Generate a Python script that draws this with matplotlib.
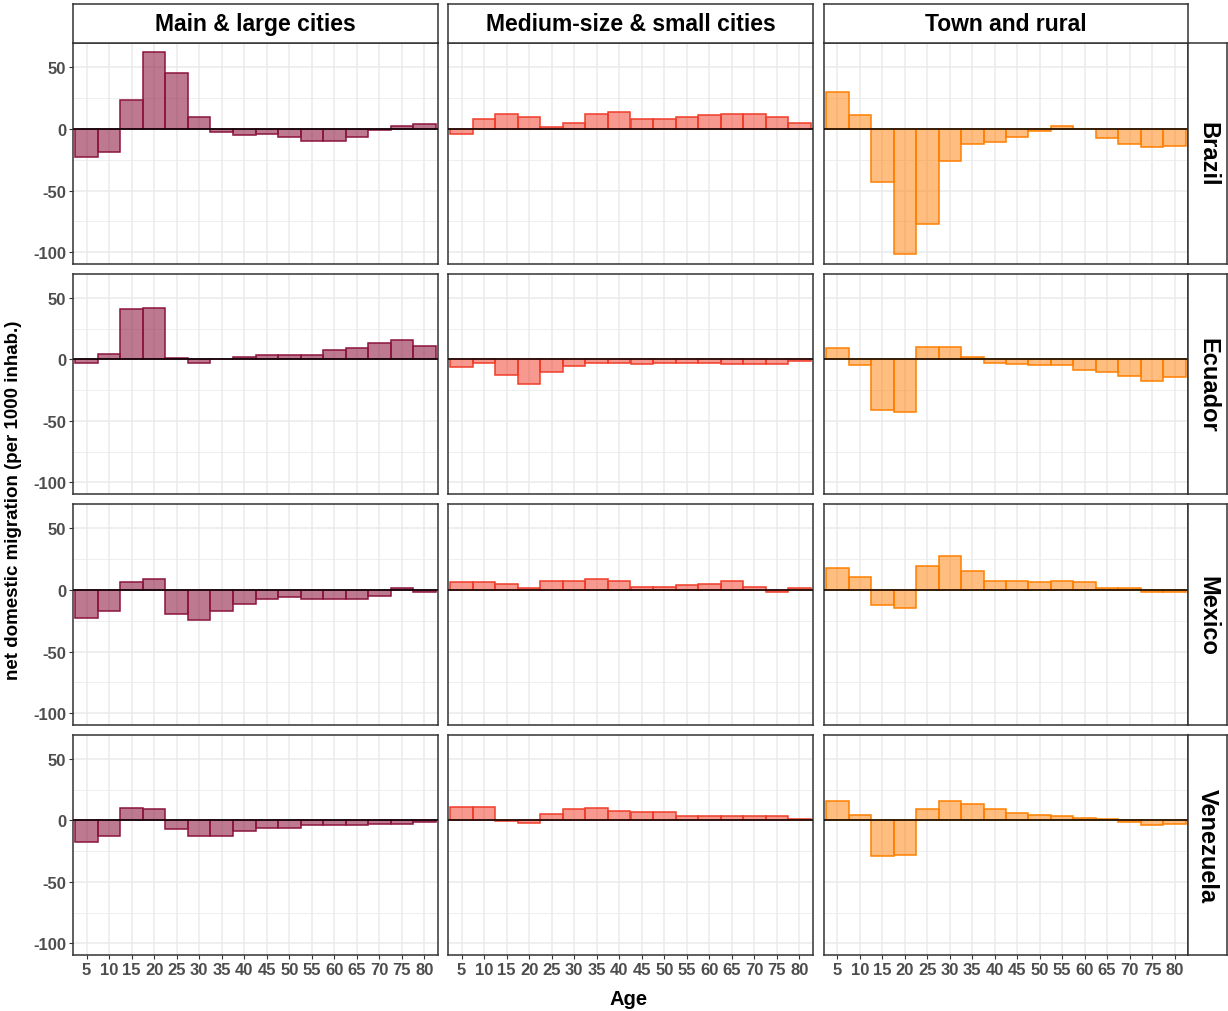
import numpy as np
import matplotlib.pyplot as plt
from matplotlib.colors import to_rgba

plt.rcParams['font.family'] = ['Liberation Sans', 'DejaVu Sans']

# Data: net domestic migration (per 1000 inhab.) by age group
ages = [5, 10, 15, 20, 25, 30, 35, 40, 45, 50, 55, 60, 65, 70, 75, 80]
countries = ['Brazil', 'Ecuador', 'Mexico', 'Venezuela']
city_types = ['Main & large cities', 'Medium-size & small cities', 'Town and rural']

brazil_main = [-23, -18.5, 23, 62, 45, 9.5, -2.5, -5, -4, -6.5, -9.5, -9.5, -6.5, -1, 2.2, 3.6]
brazil_medium = [-4, 8.3, 12, 9.7, 1.1, 4.7, 12, 13.3, 8.3, 8.3, 9.7, 10.8, 12, 12, 9.7, 4.7]
brazil_town = [29.5, 11, -43, -101, -77.5, -26, -12.5, -10.3, -6.4, -1.4, 2.2, 0, -7.8, -12.5, -15, -14]

ecuador_main = [-2.7, 4.7, 41, 42.2, 1.1, -2.7, 0, 2.2, 3.3, 3.3, 3.3, 7.4, 9.6, 13.2, 15.6, 10.7]
ecuador_medium = [-6.3, -2.7, -12.3, -19.7, -10, -5.5, -2.7, -2.7, -4, -2.7, -2.7, -2.7, -4, -4, -4, -1.4]
ecuador_town = [9.6, -4.9, -41, -42.5, 10.4, 10.4, 2.2, -2.7, -4, -4.9, -4.9, -8.8, -10, -13.7, -17.2, -14.5]

mexico_main = [-23, -17.3, 6, 8.5, -19.5, -24.5, -17, -11.2, -7.4, -6, -7.4, -7.4, -7.4, -4.9, 1.1, -1.4]
mexico_medium = [6, 6, 4.7, 1.1, 7.1, 7.1, 8.5, 7.1, 2.2, 2.2, 3.6, 4.7, 7.1, 2.2, -1.4, 1.1]
mexico_town = [18, 10.7, -12, -14.8, 19.2, 27.7, 15.6, 7.1, 7.1, 6, 7.1, 6, 1.1, 1.1, -1.4, -1.4]

venezuela_main = [-17.3, -12.4, 10.5, 9.2, -7.3, -12.4, -12.4, -8.6, -6.2, -6.2, -3.8, -3.8, -4, -2.7, -2.7, -1.1]
venezuela_medium = [11, 11, -0.8, -2.2, 4.9, 8.9, 10, 7.8, 6.5, 6.5, 3.5, 3.5, 3.5, 3.5, 3.5, 1.4]
venezuela_town = [15.4, 4.6, -29, -28, 9.5, 15.4, 13, 9.5, 5.9, 4.6, 3.2, 2.2, 1.1, -1.4, -4, -2.7]

panel_data = [
    [brazil_main, brazil_medium, brazil_town],
    [ecuador_main, ecuador_medium, ecuador_town],
    [mexico_main, mexico_medium, mexico_town],
    [venezuela_main, venezuela_medium, venezuela_town],
]

edge_colors = ['#8c143c', '#f03c28', '#ff7f00']
fill_alpha = [0.57, 0.52, 0.5]

W, H = 1228, 1012
fig = plt.figure(figsize=(W / 100, H / 100), dpi=100)

def px_axes(l, t, r, b):
    return fig.add_axes([l / W, 1 - b / H, (r - l) / W, (b - t) / H])

col_x = [(73, 438), (448, 813), (824, 1188)]
row_y = [(44, 265), (275, 495), (505, 726), (736, 956)]
frame_color = '#333333'

for i, (t, b) in enumerate(row_y):
    for j, (l, r) in enumerate(col_x):
        ax = px_axes(l, t, r, b)
        vals = panel_data[i][j]
        ax.bar(ages, vals, width=5,
               facecolor=to_rgba(edge_colors[j], fill_alpha[j]),
               edgecolor=edge_colors[j], linewidth=1.1, zorder=2)
        ax.axhline(0, color='black', linewidth=1.1, zorder=3)
        ax.set_xlim(2, 83)
        ax.set_ylim(-109.5, 69.5)
        ax.set_xticks(ages)
        ax.set_yticks([-100, -50, 0, 50])
        ax.set_yticks([-75, -25, 25], minor=True)
        ax.grid(True, which='major', color='#ebebeb', linewidth=1.1, zorder=0)
        ax.grid(True, which='minor', axis='y', color='#ebebeb', linewidth=0.6, zorder=0)
        ax.set_axisbelow(True)
        for s in ax.spines.values():
            s.set_color(frame_color)
            s.set_linewidth(1.1)
        ax.tick_params(which='minor', length=0)
        ax.tick_params(which='major', length=3, color='#333333', width=0.8,
                       labelsize=12, labelcolor='#4d4d4d', pad=2)
        if j == 0:
            ax.set_yticklabels(['-100', '-50', '0', '50'], fontweight='bold')
        else:
            ax.tick_params(axis='y', left=False, labelleft=False)
        if i == len(row_y) - 1:
            ax.set_xticklabels([str(a) for a in ages], fontweight='bold')
        else:
            ax.tick_params(axis='x', bottom=False, labelbottom=False)

        # right-hand strip with country name
        if j == len(col_x) - 1:
            sax = px_axes(1188, t, 1227, b)
            sax.set_xticks([])
            sax.set_yticks([])
            for s in sax.spines.values():
                s.set_color(frame_color)
                s.set_linewidth(1.1)
            sax.text(0.5, 0.5, countries[i], rotation=-90, ha='center', va='center',
                     fontsize=17, fontweight='bold', color='black',
                     transform=sax.transAxes)

# top strips with city type names
for j, (l, r) in enumerate(col_x):
    sax = px_axes(l, 5, r, 44)
    sax.set_xticks([])
    sax.set_yticks([])
    for s in sax.spines.values():
        s.set_color(frame_color)
        s.set_linewidth(1.1)
    sax.text(0.5, 0.5, city_types[j], ha='center', va='center',
             fontsize=16.5, fontweight='bold', color='black',
             transform=sax.transAxes)

fig.text(14 / W, 1 - 500 / H, 'net domestic migration (per 1000 inhab.)', rotation=90,
         ha='center', va='center', fontsize=13.5, fontweight='bold')
fig.text(629 / W, 1 - 1000 / H, 'Age', ha='center', va='center',
         fontsize=14.5, fontweight='bold')

fig.savefig('out.png', dpi=100, facecolor='white')
